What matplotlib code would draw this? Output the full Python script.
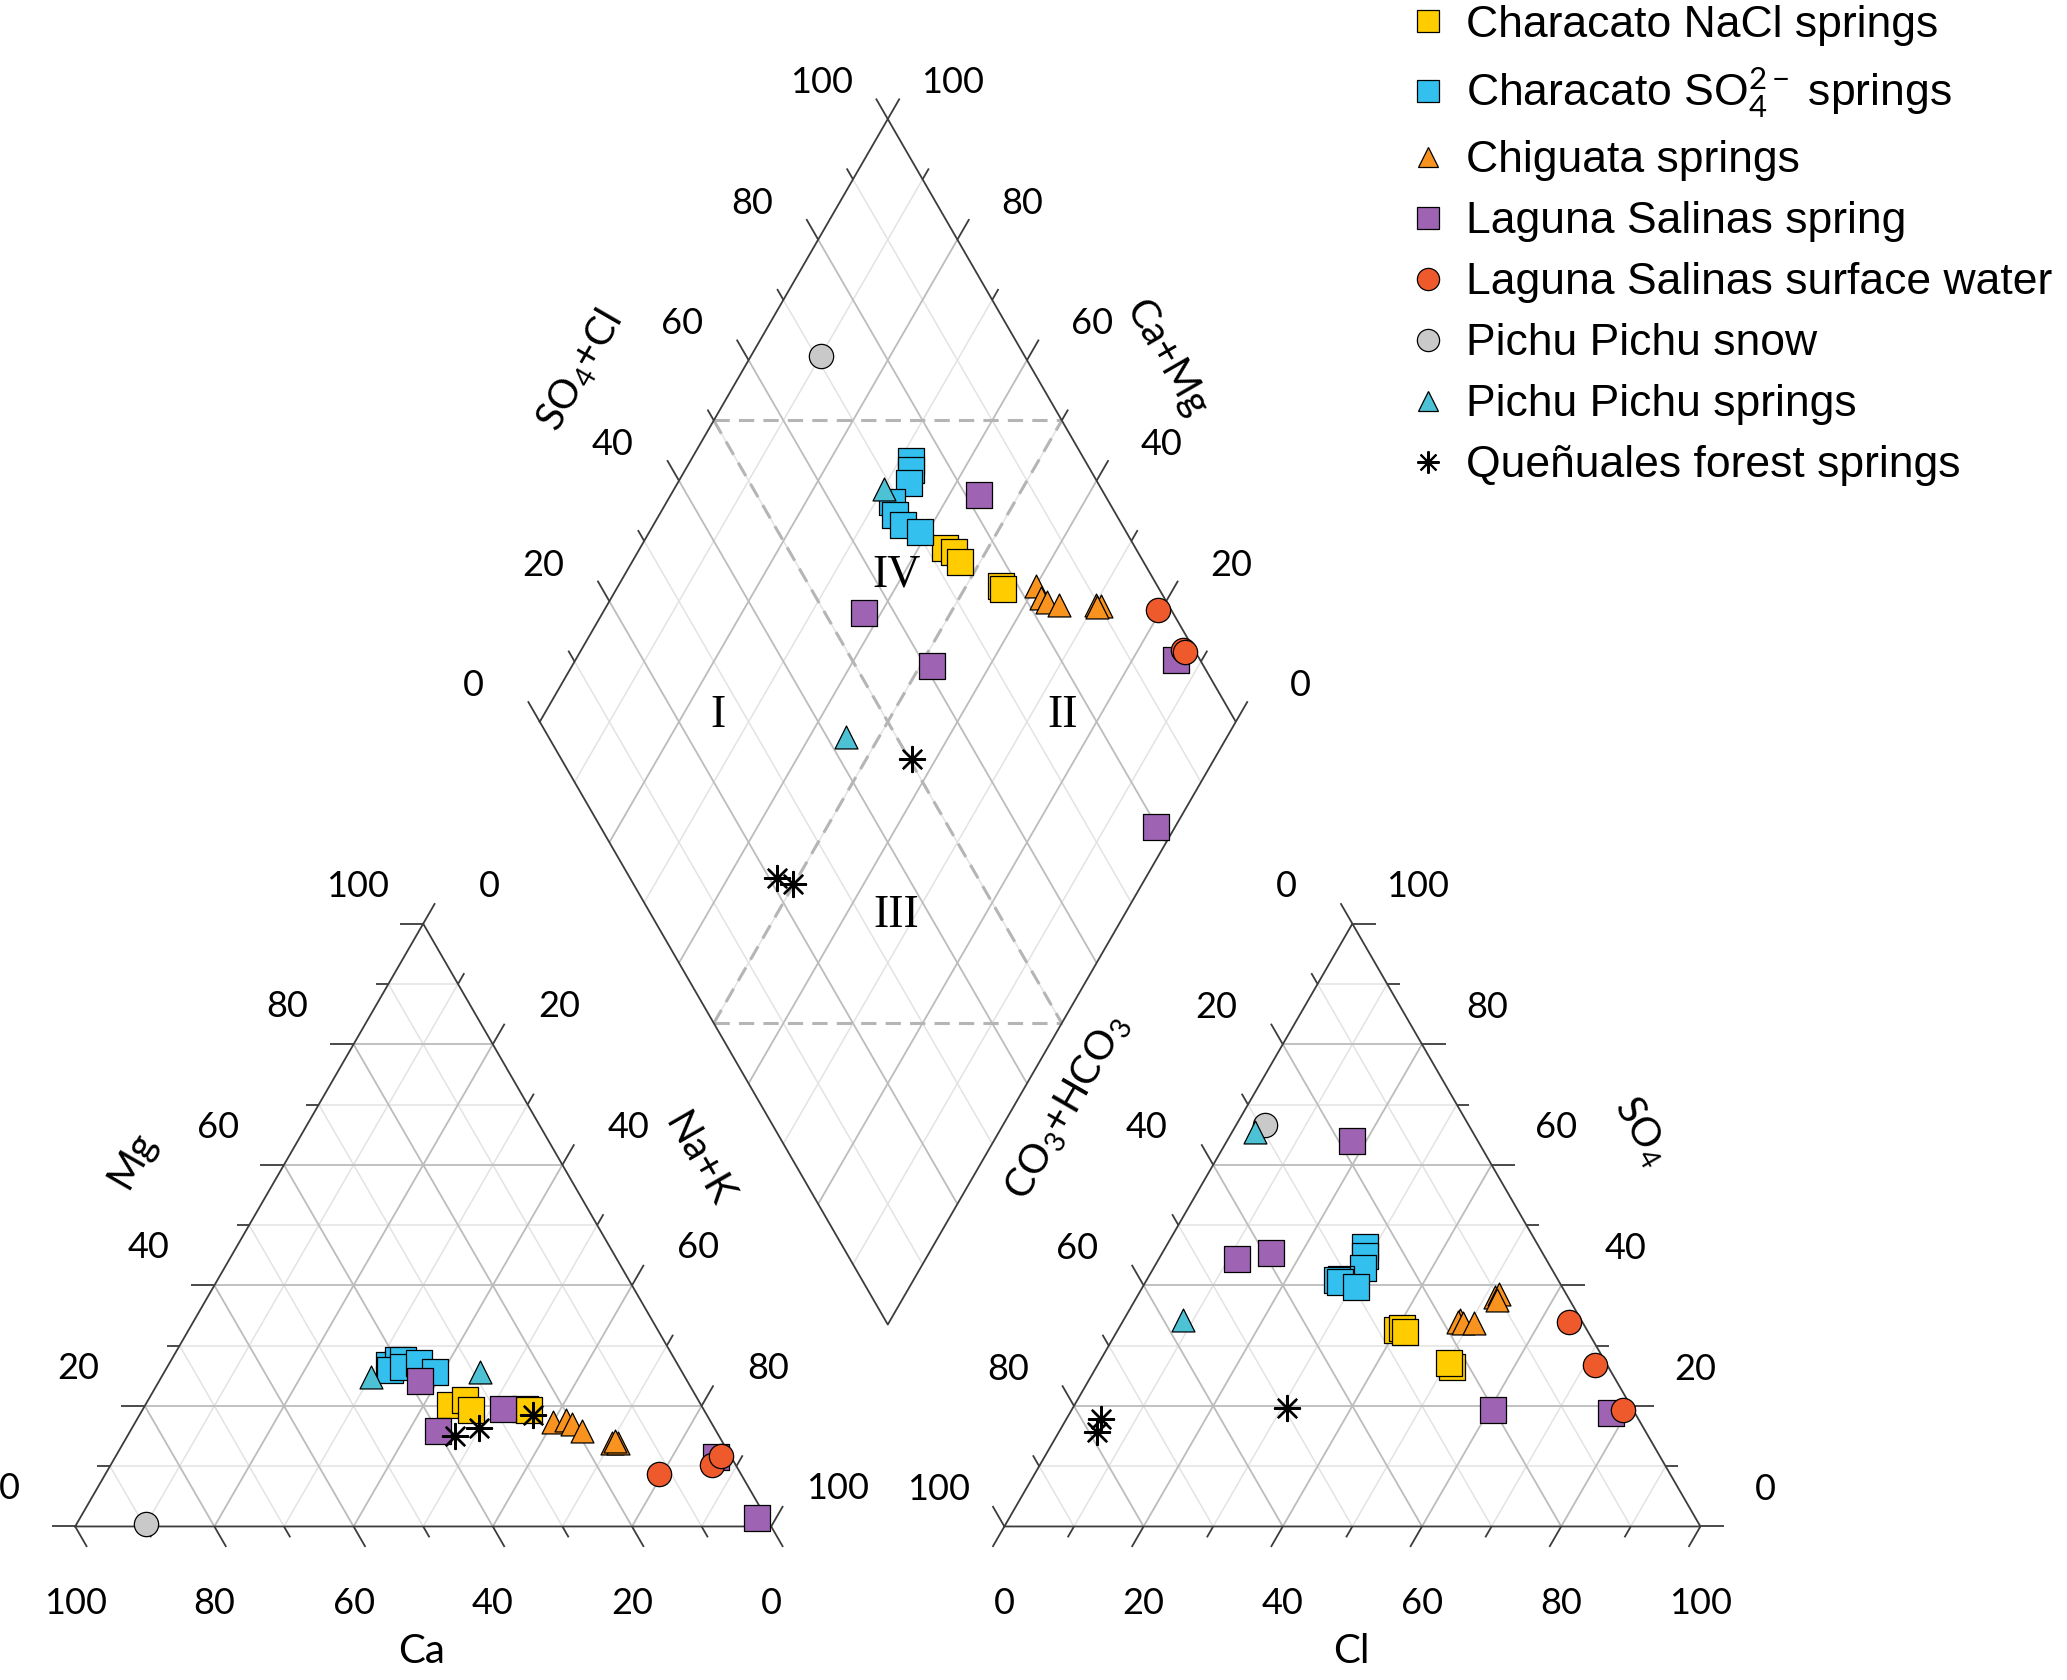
import numpy as np
import matplotlib.pyplot as plt
from matplotlib.lines import Line2D

plt.rcParams['font.family'] = ['Lato', 'DejaVu Sans']
plt.rcParams['mathtext.fontset'] = 'custom'
plt.rcParams['mathtext.rm'] = 'Lato'
plt.rcParams['mathtext.it'] = 'Lato:italic'
plt.rcParams['mathtext.bf'] = 'Lato:bold'

# groups (legend order)
group_names = ["Characato NaCl springs", r"Characato SO$_4^{2-}$ springs", "Chiguata springs",
               "Laguna Salinas spring", "Laguna Salinas surface water", "Pichu Pichu snow",
               "Pichu Pichu springs", "Queñuales forest springs"]
group_colors = ["#FFCC00", "#33C0EE", "#F7931E", "#9E63B3", "#EE5A2C", "#C9C9C9", "#4CC2D4", "black"]
group_markers = ["s", "s", "^", "s", "o", "o", "^", (8, 2, 0)]

# cations, % meq
ca = [
    [36.0, 33.6, 33.5, 25.6, 25.1],
    [41.5, 39.8, 39.0, 41.7, 39.6, 37.0, 35.4],
    [22.6, 20.6, 20.1, 19.3, 16.0, 15.1, 15.3],
    [39.9, 38.3, 28.8, 2.1, 1.3],
    [11.7, 3.4, 1.3],
    [89.6],
    [45.1, 29.0],
    [25.0, 37.9, 33.9],
]
mg = [
    [20.2, 20.9, 19.4, 19.5, 19.4],
    [26.8, 27.7, 27.7, 26.0, 26.5, 27.1, 25.7],
    [17.4, 17.7, 17.0, 15.8, 13.8, 13.8, 14.2],
    [15.9, 24.2, 19.5, 11.6, 1.4],
    [8.7, 10.2, 11.7],
    [0.4],
    [24.8, 25.7],
    [18.5, 15.0, 16.3],
]
nak = [
    [43.8, 45.5, 47.1, 54.9, 55.5],
    [31.7, 32.5, 33.3, 32.3, 33.9, 35.9, 38.9],
    [60.0, 61.7, 62.9, 64.9, 70.2, 71.1, 70.5],
    [44.2, 37.5, 51.7, 86.3, 97.3],
    [79.6, 86.4, 87.0],
    [10.0],
    [30.1, 45.3],
    [56.5, 47.1, 49.8],
]
# anions, % meq
hco3 = [
    [27.3, 26.4, 26.4, 22.5, 22.5],
    [25.0, 25.8, 27.1, 31.2, 31.8, 31.5, 29.6],
    [17.4, 17.8, 17.2, 15.7, 10.4, 9.7, 10.4],
    [18.1, 44.4, 39.0, 3.4, 20.1],
    [1.9, 1.7, 1.5],
    [29.3],
    [31.3, 57.3],
    [49.6, 78.8, 77.1],
]
so4 = [
    [32.6, 33.0, 32.2, 26.5, 27.2],
    [46.4, 44.8, 42.8, 41.0, 40.9, 40.5, 39.8],
    [34.3, 34.0, 33.8, 33.7, 38.1, 38.5, 37.6],
    [64.0, 44.4, 45.4, 18.8, 19.3],
    [34.0, 26.8, 19.3],
    [66.6],
    [65.5, 34.2],
    [19.6, 15.7, 17.9],
]
cl = [
    [40.1, 40.6, 41.4, 51.0, 50.3],
    [28.6, 29.4, 30.1, 27.8, 27.3, 28.0, 30.6],
    [48.3, 48.2, 49.0, 50.6, 51.5, 51.8, 52.0],
    [17.9, 11.2, 15.6, 77.8, 60.6],
    [64.1, 71.5, 79.2],
    [4.1],
    [3.2, 8.5],
    [30.8, 5.5, 5.0],
]

tick_values = [0, 20, 40, 60, 80, 100]

H = np.sqrt(3) / 2
GAP = 33.5
OFF = 100 + GAP
LX, LY = 50 + GAP / 2, GAP * H + 100 * H   # left corner of the diamond


def cation_xy(c, m, n):
    c, m, n = (np.asarray(v, float) for v in (c, m, n))
    t = c + m + n
    m, n = 100 * m / t, 100 * n / t
    return n + m / 2, m * H


def anion_xy(h, s, c):
    h, s, c = (np.asarray(v, float) for v in (h, s, c))
    t = h + s + c
    s, c = 100 * s / t, 100 * c / t
    return OFF + c + s / 2, s * H


def diamond_xy(n, sc):
    n, sc = np.asarray(n, float), np.asarray(sc, float)
    return LX + 0.5 * (sc + n), LY + H * (sc - n)


fig = plt.figure(figsize=(20.67, 16.8), dpi=100)
ax = fig.add_axes([0, 0, 1, 1])
ax.set_xlim(-10.8, 286.17)
ax.set_ylim(-22.06, 219.32)
ax.axis('off')

EDGE = '#3c3c3c'
MAJ = dict(color='#bcbcbc', lw=1.3, zorder=1)
MIN = dict(color='#e3e3e3', lw=1.1, zorder=0.9)
TICK_MAJ, TICK_MIN = 3.4, 1.8
FS = 26


def seg(p, q, **kw):
    ax.plot([p[0], q[0]], [p[1], q[1]], solid_capstyle='butt', **kw)


def grid_style(v):
    return MAJ if v % 20 == 0 else MIN


def tick(p, d, v):
    ln = TICK_MAJ if v % 20 == 0 else TICK_MIN
    seg(p, (p[0] + d[0] * ln, p[1] + d[1] * ln), color=EDGE, lw=1.3, zorder=2)


# ---- cation triangle ----
for v in range(10, 100, 10):
    st = grid_style(v)
    seg(cation_xy(100 - v, v, 0), cation_xy(0, v, 100 - v), **st)
    seg(cation_xy(100 - v, 0, v), cation_xy(0, 100 - v, v), **st)
    seg(cation_xy(v, 100 - v, 0), cation_xy(v, 0, 100 - v), **st)
tri = [cation_xy(100, 0, 0), cation_xy(0, 0, 100), cation_xy(0, 100, 0), cation_xy(100, 0, 0)]
ax.plot([p[0] for p in tri], [p[1] for p in tri], color=EDGE, lw=1.3, zorder=2)
for v in range(0, 101, 10):
    tick(cation_xy(100 - v, v, 0), (-1, 0), v)
    tick(cation_xy(0, 100 - v, v), (0.5, H), v)
    tick(cation_xy(v, 0, 100 - v), (0.5, -H), v)
for v in tick_values:
    x, y = cation_xy(100 - v, v, 0)
    ax.text(x - 9.5, y + 5.4, str(v), fontsize=FS, ha='center', va='center')
    x, y = cation_xy(0, 100 - v, v)
    ax.text(x + 9.5, y + 5.4, str(v), fontsize=FS, ha='center', va='center')
    x, y = cation_xy(v, 0, 100 - v)
    ax.text(x, y - 11.0, str(v), fontsize=FS, ha='center', va='center')
ax.text(8.1, 52.7, "Mg", fontsize=FS + 3, rotation=60, ha='center', va='center')
ax.text(89.6, 52.7, "Na+K", fontsize=FS + 3, rotation=-60, ha='center', va='center')
ax.text(49.8, -18.0, "Ca", fontsize=FS + 3, ha='center', va='center')

# ---- anion triangle ----
for v in range(10, 100, 10):
    st = grid_style(v)
    seg(anion_xy(100 - v, v, 0), anion_xy(0, v, 100 - v), **st)
    seg(anion_xy(100 - v, 0, v), anion_xy(0, 100 - v, v), **st)
    seg(anion_xy(v, 100 - v, 0), anion_xy(v, 0, 100 - v), **st)
tri = [anion_xy(100, 0, 0), anion_xy(0, 0, 100), anion_xy(0, 100, 0), anion_xy(100, 0, 0)]
ax.plot([p[0] for p in tri], [p[1] for p in tri], color=EDGE, lw=1.3, zorder=2)
for v in range(0, 101, 10):
    tick(anion_xy(v, 100 - v, 0), (-0.5, H), v)
    tick(anion_xy(0, v, 100 - v), (1, 0), v)
    tick(anion_xy(100 - v, 0, v), (-0.5, -H), v)
for v in tick_values:
    x, y = anion_xy(v, 100 - v, 0)
    ax.text(x - 9.5, y + 5.3, str(v), fontsize=FS, ha='center', va='center')
    x, y = anion_xy(0, v, 100 - v)
    ax.text(x + 9.3, y + 5.3, str(v), fontsize=FS, ha='center', va='center')
    x, y = anion_xy(100 - v, 0, v)
    ax.text(x, y - 11.0, str(v), fontsize=FS, ha='center', va='center')
ax.text(142.6, 60.2, r"CO$_3$+HCO$_3$", fontsize=FS + 3, rotation=60, ha='center', va='center')
ax.text(224.9, 56.8, r"SO$_4$", fontsize=FS + 3, rotation=-60, ha='center', va='center')
ax.text(183.3, -18.0, "Cl", fontsize=FS + 3, ha='center', va='center')

# ---- diamond ----
for v in range(10, 100, 10):
    st = grid_style(v)
    seg(diamond_xy(0, v), diamond_xy(100, v), **st)
    seg(diamond_xy(v, 0), diamond_xy(v, 100), **st)
dia = [diamond_xy(0, 0), diamond_xy(0, 100), diamond_xy(100, 100), diamond_xy(100, 0), diamond_xy(0, 0)]
ax.plot([p[0] for p in dia], [p[1] for p in dia], color=EDGE, lw=1.3, zorder=2)
dash = dict(color='#b5b5b5', lw=2.2, ls=(0, (5, 3)), zorder=1.5)
seg(diamond_xy(0, 50), diamond_xy(50, 100), **dash)
seg(diamond_xy(50, 0), diamond_xy(100, 50), **dash)
seg(diamond_xy(0, 50), diamond_xy(100, 50), **dash)
seg(diamond_xy(50, 0), diamond_xy(50, 100), **dash)
for v in range(0, 101, 10):
    tick(diamond_xy(0, v), (-0.5, H), v)
    tick(diamond_xy(v, 100), (0.5, H), v)
for v in tick_values:
    x, y = diamond_xy(0, v)
    ax.text(x - 9.5, y + 5.2, str(v), fontsize=FS, ha='center', va='center')
    x, y = diamond_xy(100 - v, 100)
    ax.text(x + 9.3, y + 5.2, str(v), fontsize=FS, ha='center', va='center')
ax.text(72.5, 165.9, r"SO$_4$+Cl", fontsize=FS + 3, rotation=60, ha='center', va='center')
ax.text(156.8, 167.8, "Ca+Mg", fontsize=FS + 3, rotation=-60, ha='center', va='center')
for lab, x, y in [("I", 92.4, 116.5), ("II", 141.9, 116.5), ("III", 118.0, 87.7), ("IV", 118.0, 136.6)]:
    ax.text(x, y, lab, fontsize=33, family='Liberation Serif', ha='center', va='center')

# ---- samples ----
handles = []
for i, name in enumerate(group_names):
    col, mk = group_colors[i], group_markers[i]
    sc = np.asarray(so4[i]) + np.asarray(cl[i])
    tot_a = np.asarray(hco3[i]) + sc
    n_pct = 100 * np.asarray(nak[i]) / (np.asarray(ca[i]) + np.asarray(mg[i]) + np.asarray(nak[i]))
    pts = [cation_xy(ca[i], mg[i], nak[i]), anion_xy(hco3[i], so4[i], cl[i]),
           diamond_xy(n_pct, 100 * sc / tot_a)]
    if mk == 's':
        size, lw = 19, 0.9
    elif mk == 'o':
        size, lw = 17.5, 0.9
    elif mk == '^':
        size, lw = 16.5, 0.9
    else:
        size, lw = 18, 1.7
    for x, y in pts:
        if isinstance(mk, tuple):
            ax.scatter(x, y, s=size ** 2, marker=mk, c=col, linewidths=lw, zorder=5 + i)
        else:
            ax.scatter(x, y, s=size ** 2, marker=mk, c=col, edgecolors='black', linewidths=lw, zorder=5 + i)
    if isinstance(mk, tuple):
        handles.append(Line2D([], [], ls='', marker=mk, ms=16, color=col, mew=1.5))
    else:
        handles.append(Line2D([], [], ls='', marker=mk, ms=16 if mk != '^' else 15,
                              mfc=col, mec='black', mew=0.9))

ax.legend(handles, group_names, loc='upper left', bbox_to_anchor=(0.680, 0.997),
          frameon=False, prop=dict(family='Liberation Sans', size=32),
          handlelength=1.0, handletextpad=0.36, labelspacing=0.45,
          borderpad=0, borderaxespad=0)

fig.savefig("out.png", dpi=100)
